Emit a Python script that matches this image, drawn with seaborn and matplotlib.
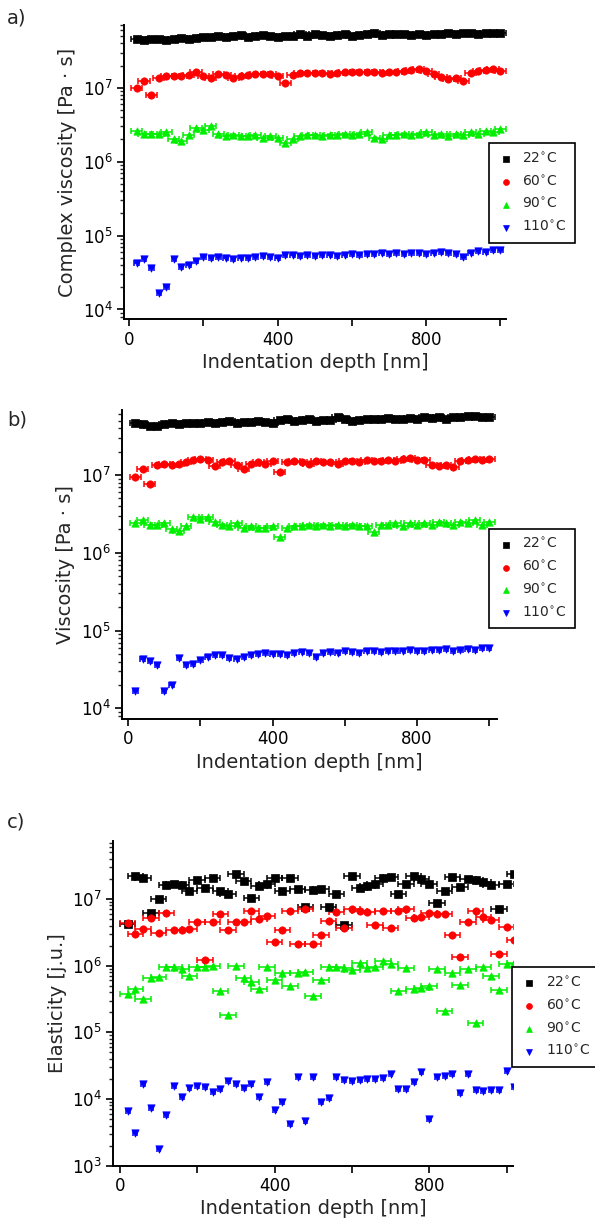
import numpy as np
import pandas as pd
import matplotlib
matplotlib.use("Agg")
import matplotlib.pyplot as plt
import seaborn as sns
from matplotlib.ticker import LogLocator, NullFormatter

# --- data (depth in nm) ---
depth = [20, 40, 60, 80, 100, 120, 140, 160, 180, 200,
         220, 240, 260, 280, 300, 320, 340, 360, 380, 400,
         420, 440, 460, 480, 500, 520, 540, 560, 580, 600,
         620, 640, 660, 680, 700, 720, 740, 760, 780, 800,
         820, 840, 860, 880, 900, 920, 940, 960, 980, 1000]
depth_c = depth + [1020]

labels = ["22$^{\\circ}$C", "60$^{\\circ}$C", "90$^{\\circ}$C", "110$^{\\circ}$C"]

# a) complex viscosity [Pa s]
cvisc_22 = [4.6e7, 4.5e7, 4.6e7, 4.6e7, 4.5e7, 4.6e7, 4.7e7, 4.6e7, 4.7e7, 4.8e7,
            4.9e7, 5.1e7, 4.9e7, 5.0e7, 5.2e7, 4.9e7, 5.0e7, 5.2e7, 5.0e7, 4.9e7,
            5.1e7, 5.0e7, 5.3e7, 5.1e7, 5.4e7, 5.2e7, 5.1e7, 5.2e7, 5.3e7, 5.0e7,
            5.2e7, 5.4e7, 5.5e7, 5.2e7, 5.3e7, 5.4e7, 5.3e7, 5.2e7, 5.3e7, 5.2e7,
            5.4e7, 5.3e7, 5.5e7, 5.4e7, 5.6e7, 5.5e7, 5.4e7, 5.5e7, 5.6e7, 5.5e7]
cvisc_60 = [1.0e7, 1.25e7, 8.0e6, 1.35e7, 1.45e7, 1.45e7, 1.45e7, 1.5e7, 1.65e7, 1.45e7,
            1.35e7, 1.55e7, 1.5e7, 1.35e7, 1.45e7, 1.5e7, 1.55e7, 1.55e7, 1.55e7, 1.45e7,
            1.15e7, 1.5e7, 1.6e7, 1.6e7, 1.6e7, 1.6e7, 1.55e7, 1.6e7, 1.65e7, 1.65e7,
            1.65e7, 1.65e7, 1.65e7, 1.6e7, 1.65e7, 1.65e7, 1.7e7, 1.75e7, 1.8e7, 1.7e7,
            1.55e7, 1.4e7, 1.3e7, 1.35e7, 1.25e7, 1.6e7, 1.7e7, 1.75e7, 1.8e7, 1.7e7]
cvisc_90 = [2.6e6, 2.4e6, 2.4e6, 2.4e6, 2.5e6, 2.0e6, 1.9e6, 2.3e6, 2.9e6, 2.7e6,
            3.0e6, 2.4e6, 2.2e6, 2.3e6, 2.2e6, 2.2e6, 2.3e6, 2.1e6, 2.2e6, 2.1e6,
            1.8e6, 2.0e6, 2.2e6, 2.3e6, 2.3e6, 2.2e6, 2.3e6, 2.3e6, 2.4e6, 2.3e6,
            2.4e6, 2.5e6, 2.1e6, 2.0e6, 2.3e6, 2.3e6, 2.4e6, 2.3e6, 2.4e6, 2.5e6,
            2.3e6, 2.4e6, 2.2e6, 2.4e6, 2.3e6, 2.5e6, 2.4e6, 2.6e6, 2.5e6, 2.8e6]
cvisc_110 = [4.2e4, 4.8e4, 3.6e4, 1.65e4, 2.0e4, 4.8e4, 3.8e4, 4.0e4, 4.6e4, 5.1e4,
             5.0e4, 5.1e4, 4.9e4, 4.8e4, 5.0e4, 4.9e4, 5.2e4, 5.3e4, 5.2e4, 5.0e4,
             5.4e4, 5.4e4, 5.3e4, 5.5e4, 5.3e4, 5.4e4, 5.5e4, 5.3e4, 5.5e4, 5.6e4,
             5.5e4, 5.7e4, 5.6e4, 5.8e4, 5.6e4, 5.9e4, 5.7e4, 5.8e4, 5.9e4, 5.7e4,
             5.8e4, 6.0e4, 5.9e4, 5.6e4, 5.2e4, 5.9e4, 6.1e4, 6.0e4, 6.3e4, 6.4e4]

# b) viscosity [Pa s]
visc_22 = [4.6e7, 4.5e7, 4.3e7, 4.3e7, 4.5e7, 4.6e7, 4.5e7, 4.7e7, 4.6e7, 4.6e7,
           4.8e7, 4.7e7, 4.8e7, 4.9e7, 4.7e7, 4.8e7, 4.8e7, 4.9e7, 4.8e7, 4.7e7,
           5.1e7, 5.3e7, 5.0e7, 5.1e7, 5.2e7, 5.0e7, 5.1e7, 5.1e7, 5.5e7, 5.2e7,
           5.0e7, 5.1e7, 5.2e7, 5.3e7, 5.2e7, 5.4e7, 5.2e7, 5.3e7, 5.4e7, 5.3e7,
           5.5e7, 5.4e7, 5.5e7, 5.3e7, 5.6e7, 5.5e7, 5.7e7, 5.8e7, 5.6e7, 5.5e7]
visc_60 = [9.5e6, 1.2e7, 7.6e6, 1.35e7, 1.4e7, 1.35e7, 1.4e7, 1.45e7, 1.55e7, 1.6e7,
           1.55e7, 1.3e7, 1.45e7, 1.5e7, 1.35e7, 1.2e7, 1.4e7, 1.45e7, 1.4e7, 1.5e7,
           1.1e7, 1.45e7, 1.5e7, 1.45e7, 1.4e7, 1.5e7, 1.45e7, 1.45e7, 1.4e7, 1.5e7,
           1.5e7, 1.45e7, 1.55e7, 1.5e7, 1.5e7, 1.55e7, 1.5e7, 1.6e7, 1.65e7, 1.55e7,
           1.55e7, 1.35e7, 1.3e7, 1.35e7, 1.25e7, 1.5e7, 1.55e7, 1.6e7, 1.55e7, 1.6e7]
visc_90 = [2.4e6, 2.6e6, 2.3e6, 2.3e6, 2.4e6, 2.0e6, 1.9e6, 2.2e6, 2.9e6, 2.7e6,
           2.9e6, 2.5e6, 2.3e6, 2.2e6, 2.4e6, 2.1e6, 2.2e6, 2.1e6, 2.1e6, 2.2e6,
           1.6e6, 2.1e6, 2.2e6, 2.2e6, 2.3e6, 2.2e6, 2.3e6, 2.2e6, 2.3e6, 2.2e6,
           2.3e6, 2.2e6, 2.2e6, 1.85e6, 2.3e6, 2.3e6, 2.4e6, 2.2e6, 2.4e6, 2.3e6,
           2.4e6, 2.3e6, 2.5e6, 2.4e6, 2.3e6, 2.5e6, 2.4e6, 2.6e6, 2.3e6, 2.5e6]
visc_110 = [1.65e4, 4.3e4, 4.1e4, 3.6e4, 1.65e4, 2.0e4, 4.4e4, 3.6e4, 3.7e4, 4.2e4,
            4.6e4, 4.8e4, 4.9e4, 4.4e4, 4.3e4, 4.6e4, 4.8e4, 5.0e4, 5.2e4, 5.0e4,
            5.0e4, 4.9e4, 5.1e4, 5.3e4, 5.2e4, 4.6e4, 5.2e4, 5.3e4, 5.2e4, 5.4e4,
            5.3e4, 5.2e4, 5.5e4, 5.4e4, 5.3e4, 5.4e4, 5.5e4, 5.4e4, 5.6e4, 5.5e4,
            5.5e4, 5.6e4, 5.7e4, 5.8e4, 5.5e4, 5.7e4, 5.8e4, 5.7e4, 5.9e4, 5.9e4]

# c) elasticity [j.u.]
elast_22 = [4.2e6, 2.2e7, 2.1e7, 6.2e6, 1.0e7, 1.6e7, 1.7e7, 1.6e7, 1.3e7, 1.9e7,
            1.45e7, 2.05e7, 1.33e7, 1.2e7, 2.4e7, 1.85e7, 1.03e7, 1.55e7, 1.7e7, 2.05e7,
            1.3e7, 2.05e7, 1.4e7, 7.6e6, 1.36e7, 1.4e7, 7.6e6, 1.2e7, 4.1e6, 2.25e7,
            1.45e7, 1.55e7, 1.7e7, 2.05e7, 2.15e7, 1.18e7, 1.65e7, 2.25e7, 2.0e7, 1.65e7,
            8.6e6, 1.33e7, 2.15e7, 1.5e7, 2.0e7, 1.95e7, 1.8e7, 1.6e7, 7.0e6, 1.65e7,
            2.4e7]
elast_60 = [4.4e6, 3.0e6, 3.6e6, 5.2e6, 3.1e6, 6.1e6, 3.4e6, 3.4e6, 3.5e6, 4.5e6,
            1.2e6, 4.5e6, 6.0e6, 3.4e6, 4.5e6, 4.5e6, 6.7e6, 5.0e6, 5.6e6, 2.3e6,
            3.4e6, 6.5e6, 2.1e6, 7.2e6, 2.1e6, 2.9e6, 4.6e6, 6.3e6, 3.7e6, 7.0e6,
            6.7e6, 6.3e6, 4.1e6, 6.5e6, 3.7e6, 6.5e6, 7.2e6, 5.2e6, 5.4e6, 6.1e6,
            5.9e6, 5.9e6, 2.9e6, 1.35e6, 4.5e6, 6.5e6, 5.4e6, 4.9e6, 1.5e6, 3.8e6,
            2.4e6]
elast_90 = [3.8e5, 4.4e5, 3.2e5, 6.6e5, 6.8e5, 9.4e5, 9.4e5, 9.0e5, 7.1e5, 9.4e5,
            9.4e5, 1.0e6, 4.1e5, 1.85e5, 1.0e6, 6.6e5, 5.6e5, 4.5e5, 9.4e5, 6.2e5,
            7.9e5, 4.9e5, 7.8e5, 8.1e5, 3.5e5, 6.2e5, 9.6e5, 9.7e5, 9.3e5, 8.6e5,
            1.1e6, 9.3e5, 9.6e5, 1.16e6, 1.05e6, 4.1e5, 9.3e5, 4.5e5, 4.6e5, 4.9e5,
            9.0e5, 2.1e5, 7.8e5, 5.2e5, 9.0e5, 1.4e5, 9.6e5, 7.1e5, 4.3e5, 1.05e6,
            1.1e6]
elast_110 = [6.6e3, 3.1e3, 1.67e4, 7.4e3, 1.8e3, 5.8e3, 1.56e4, 1.08e4, 1.48e4, 1.56e4,
             1.53e4, 1.26e4, 1.4e4, 1.87e4, 1.71e4, 1.48e4, 1.66e4, 1.08e4, 1.81e4, 6.9e3,
             9.1e3, 4.2e3, 2.15e4, 4.7e3, 2.15e4, 9.1e3, 1.02e4, 2.15e4, 1.92e4, 1.87e4,
             1.92e4, 1.97e4, 2.03e4, 2.07e4, 2.36e4, 1.4e4, 1.4e4, 1.81e4, 2.56e4, 5.0e3,
             2.15e4, 2.25e4, 2.4e4, 1.25e4, 2.4e4, 1.36e4, 1.34e4, 1.36e4, 1.36e4, 2.6e4,
             1.5e4]

COLORS = ["#000000", "#ff0000", "#00ee00", "#0000ff"]
MARKERS = ["s", "o", "^", "v"]


def draw_panel(fig, rect, x, series, xerrs, xlim, ylim, ylabel, leg_pos, letter, letter_y):
    ax = fig.add_axes(rect)
    for y, lab, col, mk, xe in zip(series, labels, COLORS, MARKERS, xerrs):
        df = pd.DataFrame({"depth": x, "value": y})
        ax.errorbar(df["depth"], df["value"], xerr=xe, fmt="none", ecolor=col,
                    elinewidth=1.1, capsize=2.2, capthick=1.1, zorder=2)
        sns.scatterplot(data=df, x="depth", y="value", marker=mk, color=col,
                        edgecolor=col, linewidth=0.5, s=28, ax=ax, label=lab, zorder=3)

    ax.set_yscale("log")
    ax.set_xlim(*xlim)
    ax.set_ylim(*ylim)
    ax.yaxis.set_major_locator(LogLocator(base=10, numticks=12))
    ax.yaxis.set_minor_locator(LogLocator(base=10, subs=np.arange(2, 10), numticks=12))
    ax.yaxis.set_minor_formatter(NullFormatter())
    ax.set_xticks([0, 200, 400, 600, 800, 1000])
    ax.set_xticklabels(["0", "", "400", "", "800", ""])
    ax.tick_params(axis="both", which="major", direction="out", length=5, width=1.2,
                   labelsize=12, colors="black", pad=3)
    ax.tick_params(axis="y", which="minor", direction="out", length=3, width=1.0)
    ax.set_xlabel("Indentation depth [nm]", fontsize=14, labelpad=3)
    ax.set_ylabel(ylabel, fontsize=14, labelpad=4)
    sns.despine(ax=ax)
    for s in ["left", "bottom"]:
        ax.spines[s].set_linewidth(1.4)
        ax.spines[s].set_color("black")

    leg = ax.legend(loc="upper left", bbox_to_anchor=leg_pos, bbox_transform=fig.transFigure,
                    frameon=True, fancybox=False, framealpha=1, edgecolor="black",
                    fontsize=10, handletextpad=0.6, labelspacing=0.6, borderpad=0.6,
                    borderaxespad=0, handlelength=1.2, markerscale=0.8)
    leg.get_frame().set_linewidth(1.2)
    fig.text(0.012, letter_y, letter, fontsize=14, ha="left", va="center")
    return ax


def main():
    sns.set_style("ticks")
    plt.rcParams["font.family"] = ["DejaVu Sans"]
    fig = plt.figure(figsize=(5.95, 12.32), dpi=100)

    xe_ab = [15, 15, 15, 6]
    xe_c = [20, 20, 20, 5]

    draw_panel(fig, [0.2084, 0.7407, 0.642, 0.239], depth,
               [cvisc_22, cvisc_60, cvisc_90, cvisc_110], xe_ab,
               (-14, 1015), (10 ** 3.865, 10 ** 7.85),
               "Complex viscosity [Pa \u00b7 s]", (0.822, 0.884), "a)", 0.985)
    draw_panel(fig, [0.2045, 0.4162, 0.630, 0.251], depth,
               [visc_22, visc_60, visc_90, visc_110], xe_ab,
               (-18, 1020), (10 ** 3.86, 10 ** 7.835),
               "Viscosity [Pa \u00b7 s]", (0.822, 0.571), "b)", 0.659)
    draw_panel(fig, [0.1904, 0.0538, 0.672, 0.2638], depth_c,
               [elast_22, elast_60, elast_90, elast_110], xe_c,
               (-17, 1017), (1e3, 10 ** 7.874),
               "Elasticity [j.u.]", (0.861, 0.215), "c)", 0.333)

    fig.savefig("out.png", dpi=100)


if __name__ == "__main__":
    main()
